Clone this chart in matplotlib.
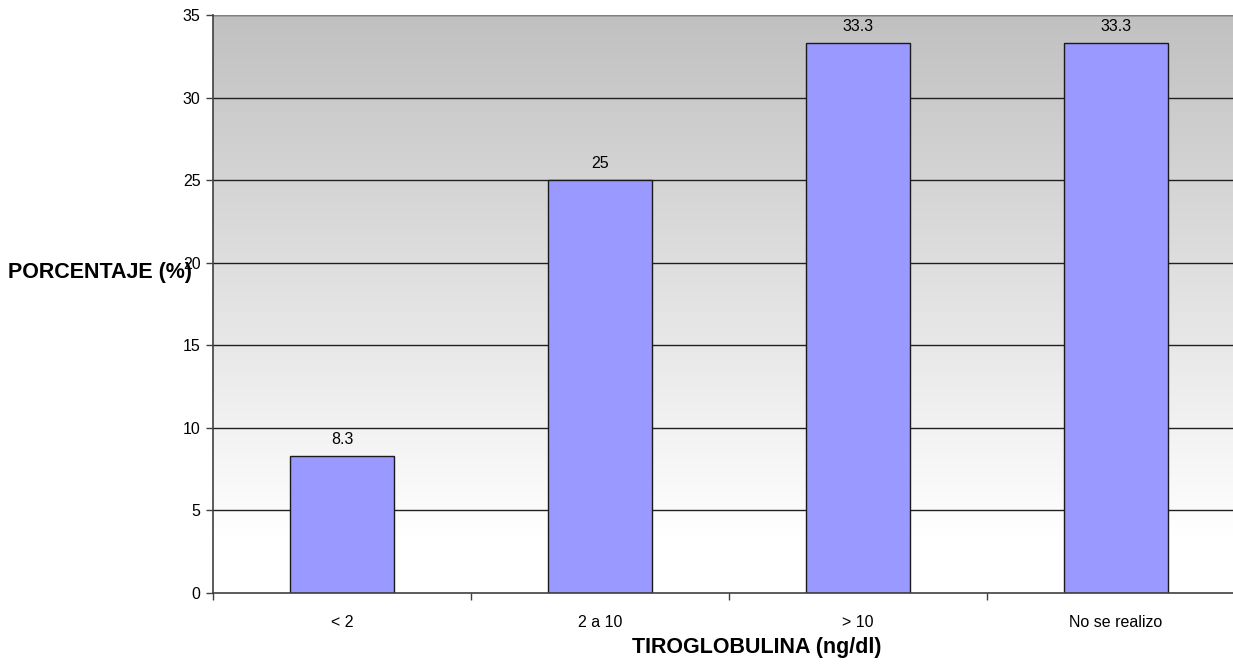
import numpy as np
import matplotlib
matplotlib.use("Agg")
import matplotlib.pyplot as plt

categories = ["< 2", "2 a 10", "> 10", "No se realizo"]
values = [8.3, 25, 33.3, 33.3]
value_labels = ["8.3", "25", "33.3", "33.3"]
y_ticks = [0, 5, 10, 15, 20, 25, 30, 35]

plt.rcParams["font.family"] = ["Liberation Sans", "DejaVu Sans"]

fig = plt.figure(figsize=(12.33, 6.65), dpi=100)
ax = fig.add_axes([213 / 1233, 1 - 593 / 665, 1032 / 1233, 578 / 665])
ax.set_xlim(-0.5, 3.5)
ax.set_ylim(0, 35)

# background: gray at the top fading to white near the bottom
ys = np.linspace(35, 0, 600)
shade = np.clip(0.753 + (1 - 0.753) * (35 - ys) / (35 - 3.2), 0, 1)
shade = np.round(shade * 255) / 255
grad = np.repeat(shade[:, None], 2, axis=1)
ax.imshow(np.dstack([grad, grad, grad]), extent=[-0.5, 3.5, 0, 35],
          aspect="auto", zorder=0, interpolation="nearest")

for y in y_ticks[1:]:
    ax.axhline(y, color="#202020", lw=1.0, zorder=1)
ax.axhline(35, color="#808080", lw=1.5, zorder=1)

x = np.arange(len(categories))
ax.bar(x, values, width=0.4, color="#9999ff", edgecolor="#1a1a1a", lw=1.0, zorder=2)
for xi, v, lab in zip(x, values, value_labels):
    ax.text(xi, v + 0.55, lab, ha="center", va="bottom", fontsize=11.5, color="black")

ax.set_yticks(y_ticks)
ax.set_yticklabels([str(t) for t in y_ticks], fontsize=11.5)
ax.set_xticks(x)
ax.set_xticklabels(categories, fontsize=11.5)
ax.set_xticks(np.arange(-0.5, 3.6, 1.0), minor=True)
ax.tick_params(axis="x", which="major", length=0, pad=16)
ax.tick_params(axis="x", which="minor", length=5, color="#404040", width=1)
ax.tick_params(axis="y", length=5, color="#404040", width=1, pad=4)

for s in ["top", "right"]:
    ax.spines[s].set_visible(False)
for s in ["left", "bottom"]:
    ax.spines[s].set_color("#404040")
    ax.spines[s].set_linewidth(1.2)

fig.text(8 / 1233, 1 - 272 / 665, "PORCENTAJE (%)", fontsize=15.5, fontweight="bold",
         ha="left", va="center")
fig.text(757 / 1233, 1 - 648 / 665, "TIROGLOBULINA (ng/dl)", fontsize=15.5, fontweight="bold",
         ha="center", va="center")

fig.savefig("out.png", dpi=100)
